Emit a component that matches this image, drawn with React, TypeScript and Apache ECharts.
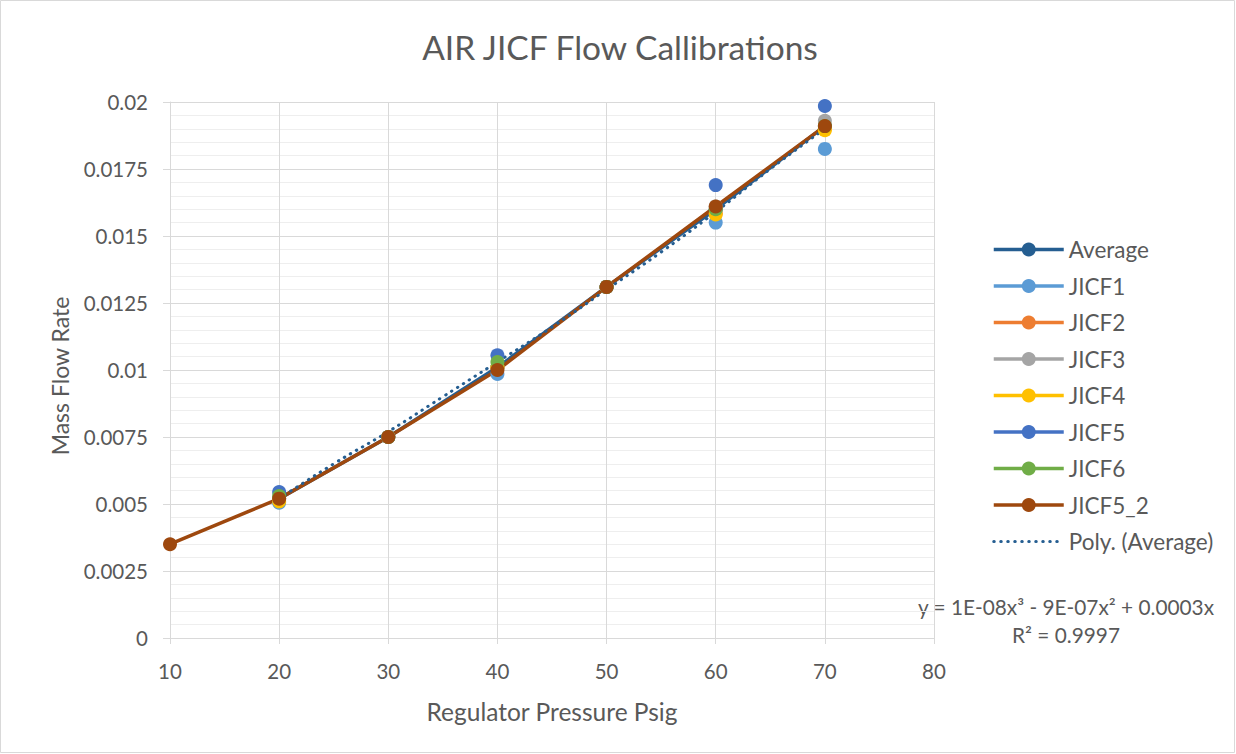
import React, { useEffect, useRef } from "react";
import * as echarts from "echarts";

// Regulator pressure (psig) for each measurement column
const pressures = [10, 20, 30, 40, 50, 60, 70];

// Mass flow rate per series (null = no point)
const average = [null, 0.0052, 0.0075, 0.0101, 0.0131, 0.016, 0.0191];
const jicf1 = [null, 0.00505, 0.0075, 0.00985, 0.0131, 0.0155, 0.01825];
const jicf2 = [null, 0.0052, 0.0075, 0.0101, 0.0131, 0.01585, 0.019];
const jicf3 = [null, 0.0052, 0.0075, 0.0101, 0.0131, 0.0161, 0.0193];
const jicf4 = [null, 0.0051, 0.0075, 0.0101, 0.0131, 0.0158, 0.01895];
const jicf5 = [null, 0.00545, 0.0075, 0.01055, 0.0131, 0.0169, 0.01985];
const jicf6 = [null, 0.0053, 0.0075, 0.0103, 0.0131, 0.016, 0.0191];
const jicf5_2 = [0.0035, 0.0052, 0.0075, 0.01, 0.0131, 0.0161, 0.0191];

// Polynomial trendline of Average
const trendX = [20, 25, 30, 35, 40, 45, 50, 55, 60, 65, 70];
const trendY = [0.0052, 0.0065, 0.0077, 0.009, 0.0103, 0.0116, 0.013, 0.0144, 0.0159, 0.0175, 0.019];

const yTicks = [0, 0.0025, 0.005, 0.0075, 0.01, 0.0125, 0.015, 0.0175, 0.02];

const seriesDefs = [
  { name: "Average", data: average, color: "#255E91", line: true },
  { name: "JICF1", data: jicf1, color: "#5B9BD5", line: false },
  { name: "JICF2", data: jicf2, color: "#ED7D31", line: false },
  { name: "JICF3", data: jicf3, color: "#A5A5A5", line: false },
  { name: "JICF4", data: jicf4, color: "#FFC000", line: false },
  { name: "JICF5", data: jicf5, color: "#4472C4", line: false },
  { name: "JICF6", data: jicf6, color: "#70AD47", line: false },
  { name: "JICF5_2", data: jicf5_2, color: "#9E480E", line: true },
];

const FONT = "Lato";
const TXT = "#595959";

export default function App() {
  const ref = useRef<HTMLDivElement>(null);
  useEffect(() => {
    if (!ref.current) return;
    const chart = echarts.init(ref.current, undefined, { renderer: "svg" });
    const series: any[] = seriesDefs.map((s) => ({
      name: s.name,
      type: "line",
      data: pressures.map((p, i) => (s.data[i] == null ? null : [p, s.data[i]])).filter((d) => d),
      symbol: "circle",
      symbolSize: 14,
      showSymbol: true,
      itemStyle: { color: s.color },
      lineStyle: { color: s.color, width: s.line ? 3.5 : 3, opacity: s.line ? 1 : 0 },
    }));
    series.push({
      name: "Poly. (Average)",
      type: "line",
      data: trendX.map((x, i) => [x, trendY[i]]),
      smooth: true,
      showSymbol: false,
      symbol: "none",
      itemStyle: { color: "#255E91" },
      lineStyle: { color: "#255E91", width: 3, type: [0.5, 6.5], cap: "round" },
    });
    chart.setOption({
      animation: false,
      backgroundColor: "#ffffff",
      textStyle: { fontFamily: FONT },
      grid: { left: 170, right: 1236 - 934, top: 102, bottom: 754 - 638, containLabel: false },
      xAxis: {
        type: "value",
        min: 10,
        max: 80,
        interval: 10,
        axisLine: { show: true, lineStyle: { color: "#d9d9d9", width: 1 } },
        axisTick: { show: true, length: 6, lineStyle: { color: "#d9d9d9" } },
        axisLabel: { color: TXT, fontSize: 20.5, margin: 22, fontFamily: FONT },
        splitLine: { show: true, lineStyle: { color: "#d9d9d9", width: 1 } },
      },
      yAxis: {
        type: "value",
        min: 0,
        max: 0.02,
        interval: 0.0025,
        axisLine: { show: true, lineStyle: { color: "#d9d9d9", width: 1 } },
        axisTick: { show: true, length: 7, lineStyle: { color: "#d9d9d9" } },
        axisLabel: {
          color: TXT,
          fontSize: 20.5,
          margin: 22,
          fontFamily: FONT,
          formatter: (v: number) => {
            const t = yTicks.find((k) => Math.abs(k - v) < 1e-9);
            return String(parseFloat((t ?? v).toFixed(4)));
          },
        },
        splitLine: { show: true, lineStyle: { color: "#d9d9d9", width: 1 } },
        minorTick: { show: false, splitNumber: 5 },
        minorSplitLine: { show: true, lineStyle: { color: "#eeeeee", width: 1 } },
      },
      legend: {
        orient: "vertical",
        left: 987,
        top: 233,
        itemWidth: 70,
        itemHeight: 17.5,
        itemGap: 13.5,
        textStyle: { color: TXT, fontSize: 22.5, fontFamily: FONT, lineHeight: 20 },
        data: [
          ...seriesDefs.map((s) => ({
            name: s.name,
            itemStyle: { color: s.color },
            lineStyle: { color: s.color, width: 3.5, opacity: 1 },
          })),
          {
            name: "Poly. (Average)",
            itemStyle: { color: "rgba(0,0,0,0)", opacity: 0 },
            lineStyle: { color: "#255E91", width: 3, type: [0.5, 6.5], cap: "round", opacity: 1 },
          },
        ],
      },
      graphic: [
        {
          type: "rect",
          shape: { x: 0.5, y: 0.5, width: 1234, height: 752 },
          style: { fill: "none", stroke: "#d9d9d9", lineWidth: 1 },
          silent: true,
        },
        {
          type: "text",
          x: 620,
          y: 47,
          style: { text: "AIR JICF Flow Callibrations", fill: TXT, font: `33.5px ${FONT}`, textAlign: "center", textVerticalAlign: "middle" },
        },
        {
          type: "text",
          x: 552,
          y: 711,
          style: { text: "Regulator Pressure Psig", fill: TXT, font: `24.5px ${FONT}`, textAlign: "center", textVerticalAlign: "middle" },
        },
        {
          type: "text",
          x: 60,
          y: 376,
          rotation: Math.PI / 2,
          style: { text: "Mass Flow Rate", fill: TXT, font: `23px ${FONT}`, textAlign: "center", textVerticalAlign: "middle" },
        },
        {
          type: "text",
          x: 1066,
          y: 606,
          style: { text: "y = 1E-08x³ - 9E-07x² + 0.0003x", fill: TXT, font: `20.8px ${FONT}`, textAlign: "center", textVerticalAlign: "middle" },
        },
        {
          type: "text",
          x: 1066,
          y: 634,
          style: { text: "R² = 0.9997", fill: TXT, font: `20.8px ${FONT}`, textAlign: "center", textVerticalAlign: "middle" },
        },
      ],
      series,
    });
    return () => chart.dispose();
  }, []);
  return <div ref={ref} style={{ position: "fixed", left: 0, top: 0, width: 1236, height: 754 }} />;
}
